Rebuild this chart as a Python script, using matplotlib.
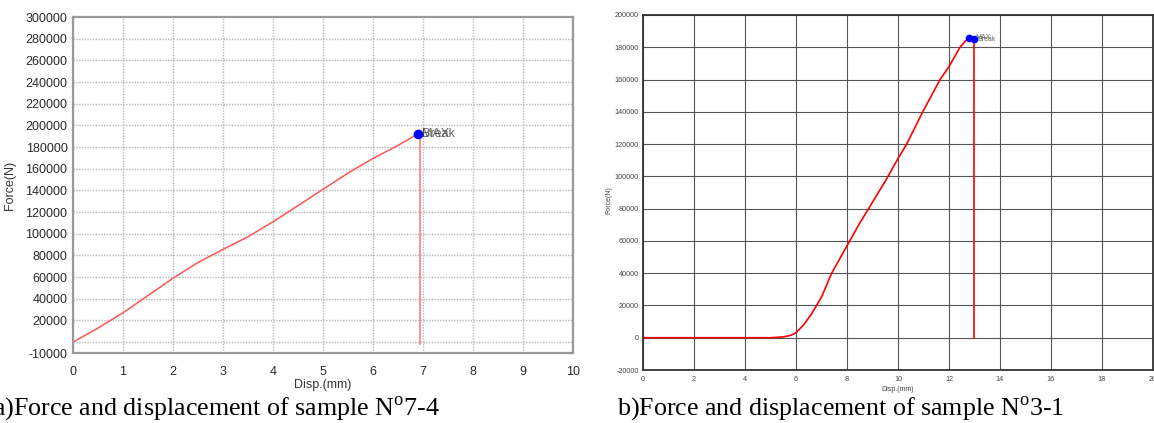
import numpy as np
import matplotlib
matplotlib.use("Agg")
import matplotlib.pyplot as plt

plt.rcParams['font.family'] = ['Liberation Sans', 'DejaVu Sans']
plt.rcParams['mathtext.fontset'] = 'custom'
plt.rcParams['mathtext.rm'] = 'Liberation Serif'
plt.rcParams['axes.unicode_minus'] = False

# sample 7-4 (left)
disp_a = [0, 0.5, 1, 1.5, 2, 2.5, 3, 3.5, 4, 4.5, 5, 5.5, 6, 6.5, 6.89]
force_a = [0, 13000, 27100, 43000, 59000, 73500, 85600, 97300, 111000,
           126000, 141000, 156000, 169500, 181500, 192000]
max_a = (6.89, 192000)
break_a = (6.93, 192000)
break_end_a = -2000

# sample 3-1 (right)
disp_b = [0, 1, 2, 3, 4, 5, 5.5, 5.8, 6, 6.3, 6.6, 7, 7.4, 8, 8.5, 9, 9.5,
          10, 10.34, 10.97, 11.65, 12, 12.43, 12.65, 12.8, 12.98]
force_b = [0, 0, 0, 0, 0, 0, 500, 1500, 3100, 8000, 14500, 25200, 40000,
           57000, 71000, 84000, 97000, 111000, 120000, 140000, 160000,
           168000, 180000, 184000, 185700, 185000]
max_b = (12.8, 185700)
break_b = (12.98, 185000)

yticks_a = [-10000] + list(range(20000, 300001, 20000))
ygrid_a = list(range(0, 280001, 20000))
xticks_a = list(range(0, 11))
yticks_b = list(range(-20000, 200001, 20000))
xticks_b = list(range(0, 21, 2))

fig = plt.figure(figsize=(11.54, 4.23), dpi=100)

# ---- left panel
ax1 = fig.add_axes([73/1154, 70/423, 500/1154, 336/423])
ax1.plot(disp_a, force_a, color='#ff5555', lw=1.1)
ax1.plot([break_a[0], break_a[0]], [break_a[1], break_end_a], color='#ff8080', lw=1.2)
ax1.plot(*max_a, 'o', color='#0000ff', ms=6, zorder=5)
ax1.text(max_a[0] + 0.1, max_a[1], 'MAX', fontsize=9, color='#444444', va='center', alpha=0.8)
ax1.text(max_a[0] + 0.1, max_a[1], 'Break', fontsize=9, color='#444444', va='center', alpha=0.8)
ax1.set_xlim(0, 10)
ax1.set_ylim(-10000, 300000)
ax1.set_xticks(xticks_a)
ax1.set_yticks(yticks_a)
ax1.set_yticks(ygrid_a, minor=True)
ax1.set_xticks(xticks_a, minor=True)
ax1.xaxis.remove_overlapping_locs = False
ax1.yaxis.remove_overlapping_locs = False
ax1.tick_params(which='both', length=0)
ax1.tick_params(axis='y', pad=4, labelsize=9, labelcolor='#2a2a2a')
ax1.tick_params(axis='x', pad=9, labelsize=9, labelcolor='#2a2a2a')
ax1.grid(False)
ax1.grid(which='minor', color='#b8b8b8', ls=(0, (1, 1)), lw=1.0)
for s in ax1.spines.values():
    s.set_color('#999999')
    s.set_linewidth(1.6)
ax1.set_ylabel('Force(N)', fontsize=9, color='#333333')
ax1.yaxis.set_label_coords(-0.114, 0.5)
ax1.set_xlabel('Disp.(mm)', fontsize=9, color='#333333', va='center')
ax1.xaxis.set_label_coords(0.5, -0.095)

# ---- right panel
ax2 = fig.add_axes([643/1154, 53/423, 510/1154, 355/423])
ax2.plot(disp_b, force_b, color='#ff0000', lw=1.2)
ax2.plot([break_b[0], break_b[0]], [break_b[1], 0], color='#ff0000', lw=1.2)
ax2.plot(*max_b, 'o', color='#0000ff', ms=4.5, zorder=5)
ax2.plot(*break_b, 'o', color='#0000ff', ms=4.5, zorder=5)
ax2.text(max_b[0] + 0.25, max_b[1] + 600, 'MAX', fontsize=5, color='#444444', va='center', alpha=0.8)
ax2.text(break_b[0] + 0.15, break_b[1], 'Break', fontsize=5, color='#444444', va='center', alpha=0.8)
ax2.set_xlim(0, 20)
ax2.set_ylim(-20000, 200000)
ax2.set_xticks(xticks_b)
ax2.set_yticks(yticks_b)
ax2.tick_params(length=0, labelsize=5.2, labelcolor='#444444')
ax2.tick_params(axis='y', pad=3)
ax2.tick_params(axis='x', pad=4)
ax2.grid(True, color='#555555', lw=0.8)
for s in ax2.spines.values():
    s.set_color('#333333')
    s.set_linewidth(1.3)
ax2.set_ylabel('Force(N)', fontsize=5, color='#444444')
ax2.yaxis.set_label_coords(-0.061, 0.48)
ax2.set_xlabel('Disp.(mm)', fontsize=5, color='#444444', va='center')
ax2.xaxis.set_label_coords(0.5, -0.054)

# captions
fig.text(-7/1154, 1 - 409/423, r'a)Force and displacement of sample N$^{\rm o}$7-4',
         family='Liberation Serif', fontsize=18.7, va='center', ha='left')
fig.text(617/1154, 1 - 409/423, r'b)Force and displacement of sample N$^{\rm o}$3-1',
         family='Liberation Serif', fontsize=18.7, va='center', ha='left')

fig.savefig('out.png', dpi=100)
